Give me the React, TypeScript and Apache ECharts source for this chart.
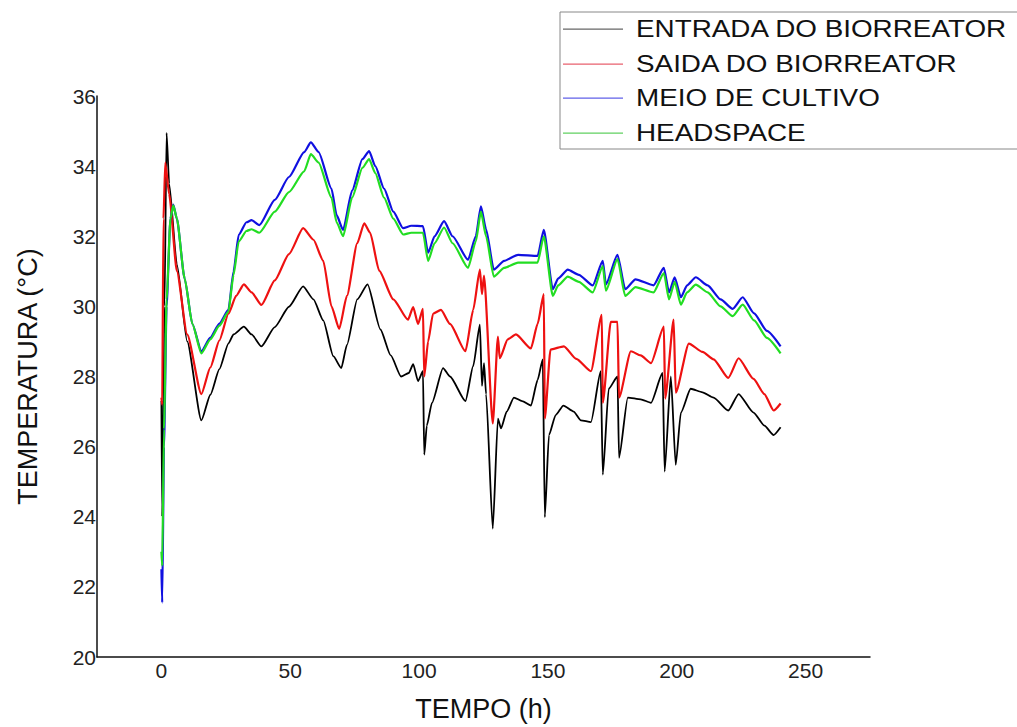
import React, { useEffect, useRef } from "react";
import * as echarts from "echarts";

const xTicks = [0, 50, 100, 150, 200, 250];
const seriesNames = ["ENTRADA DO BIORREATOR", "SAIDA DO BIORREATOR", "MEIO DE CULTIVO", "HEADSPACE"];
const seriesColors = ["#000000", "#ee1111", "#1010e0", "#22dd22"];
const legendColors = ["#666666", "#e8606e", "#6060e8", "#60d060"];

const entrada: number[][] = [
  [0, 27.3], [0.3, 24.0], [1.2, 30], [2, 34.95], [3, 33.5], [6, 31.2], [10, 29.0], [15.5, 26.75],
  [19, 27.48], [22.5, 28.21],
  [26, 28.94], [28, 29.2], [32, 29.42], [35, 29.2], [38.8, 28.86], [44, 29.41], [49.5, 29.99], [55, 30.57], [59, 30.2], [62.8, 29.6],
  [66.7, 28.58], [69.8, 28.24], [72, 28.9], [76, 30.2], [80, 30.63], [85, 29.34], [89, 28.6], [93, 28.0],
  [96, 28.1], [97.7, 28.35], [99.6, 27.87], [101.5, 28.15], [102, 25.77], [103, 26.6], [105, 27.25],
  [109.3, 28.24], [112, 28.0], [118, 27.3], [121, 28.3], [123.6, 29.48], [124.4, 27.73], [125.2, 28.38],
  [126, 27.5], [128.6, 23.66], [130.6, 26.8], [131.8, 26.52], [134, 27.0], [136.8, 27.4], [140, 27.3],
  [143.4, 27.17], [146, 27.9], [148, 28.49], [148.8, 23.99], [150.4, 26.33], [153, 26.9], [156, 27.17],
  [160, 27.0], [162.8, 26.75], [166.7, 26.7], [170.5, 28.15], [171.3, 25.2], [173.6, 27.65], [177, 28.0],
  [177.6, 25.68], [181, 27.4], [186, 27.35], [190, 27.25], [194.5, 28.1], [195.3, 25.29], [197.7, 28.0],
  [199.6, 25.48], [201.6, 26.97], [205.4, 27.65], [210, 27.55], [214.3, 27.4], [220, 27.03], [224, 27.5],
  [229.8, 26.97], [234, 26.6], [237.6, 26.33], [240.3, 26.55],
];

const saida: number[][] = [
  [0, 27.4], [0.3, 27.2], [0.8, 32.5], [1.5, 34.1], [3, 33.2], [6, 31.0], [10, 29.2], [15.5, 27.5],
  [19, 28.26], [22.5, 29.03],
  [26, 29.79], [29, 30.3], [32, 30.63], [35, 30.4], [38.8, 30.04], [44, 30.74], [49.5, 31.49], [55, 32.23], [59, 31.9], [62.8, 31.3],
  [66, 30.0], [69, 29.36], [72, 30.3], [76, 31.8], [78.7, 32.37], [81, 32.1], [84.5, 31.02], [90, 30.2],
  [95.7, 29.62], [97.7, 29.98], [99.6, 29.5], [101.5, 29.93], [102, 28.0], [103.5, 29.0], [105.4, 29.79],
  [108.5, 29.9], [112, 29.5], [118, 28.72], [121, 29.9], [123.6, 31.05], [124.4, 30.35], [125.2, 30.88],
  [128.6, 26.66], [130.6, 29.14], [131.3, 28.52], [134.4, 29.06], [137.6, 29.2], [143.4, 28.8], [146, 29.5],
  [148.4, 30.35], [148.8, 26.8], [151, 28.77], [156.2, 28.86], [161, 28.5], [166.7, 28.15], [170.9, 29.76],
  [171.3, 27.25], [174.4, 29.56], [177, 29.56], [177.6, 27.4], [182.2, 28.72], [186, 28.6], [190, 28.38],
  [195, 29.42], [195.5, 27.37], [198.8, 29.62], [199.6, 27.54], [204.7, 28.94], [210, 28.7], [214.3, 28.49],
  [220, 27.96], [224, 28.52], [229.8, 27.93], [234, 27.5], [237.6, 27.03], [240.3, 27.23],
];

const meio: number[][] = [
  [0, 22.5], [0.3, 21.55], [1, 26], [2, 30], [3.5, 32.5], [4.6, 32.9], [6, 32.5], [9, 30.8], [12, 29.5],
  [15.5, 28.72], [19, 29.11], [22.5, 29.51], [26, 29.9], [28, 31.0], [30, 32.04], [33, 32.4], [35, 32.46], [38, 32.32],
  [44, 33.04], [49.5, 33.69], [55.4, 34.4],
  [58, 34.68], [61, 34.4], [66, 33.36], [68, 32.6], [70.5, 32.18], [74, 33.3], [78, 34.2], [80.6, 34.43],
  [83, 34.0], [86.4, 33.36], [90, 32.7], [93.8, 32.23], [97, 32.3], [101.5, 32.29], [103.5, 31.53],
  [106, 32.0], [109.7, 32.43], [113, 32.0], [119, 31.33], [122, 32.0], [124, 32.85], [126, 32.2],
  [129, 31.05], [133, 31.3], [138.4, 31.47], [146, 31.44], [148.4, 32.18], [151.9, 30.49], [154, 30.8],
  [157.7, 31.05], [162, 30.9], [167.4, 30.6], [171.3, 31.3], [172.5, 30.63], [177, 31.47], [180, 30.49],
  [184, 30.77], [191, 30.6], [195, 31.1], [197, 30.4], [199.2, 30.83], [201.6, 30.26], [204, 30.6],
  [207.4, 30.83], [212, 30.6], [217, 30.2], [221.7, 29.93], [225.6, 30.26], [230, 29.8], [235, 29.3],
  [240.3, 28.86],
];

const headspace: number[][] = [
  [0, 23.0], [0.3, 22.6], [1, 26.5], [2, 30.2], [3.5, 32.5], [4.6, 32.88], [6, 32.5], [9, 30.8], [12, 29.5],
  [15.5, 28.66], [19, 29.06], [22.5, 29.45], [26, 29.85], [28, 30.9], [30, 31.85], [33, 32.15], [35, 32.2], [38, 32.1],
  [44, 32.7], [49.5, 33.26], [55.4, 33.85],
  [58, 34.34], [61, 34.1], [66, 33.1], [68, 32.4], [70.5, 32.0], [74, 33.1], [78, 33.95], [80.6, 34.2],
  [83, 33.8], [86.4, 33.1], [90, 32.5], [93.8, 32.05], [97, 32.1], [101.5, 32.1], [103.5, 31.3],
  [106, 31.8], [109.7, 32.25], [113, 31.8], [119, 31.1], [122, 31.85], [124, 32.7], [126, 32.0],
  [129, 30.85], [133, 31.1], [138.4, 31.25], [146, 31.25], [148.4, 32.0], [151.9, 30.3], [154, 30.6],
  [157.7, 30.85], [162, 30.7], [167.4, 30.4], [171.3, 31.15], [172.5, 30.45], [177, 31.35], [180, 30.3],
  [184, 30.55], [191, 30.4], [195, 30.95], [197, 30.2], [199.2, 30.7], [201.6, 30.05], [204, 30.4],
  [207.4, 30.62], [212, 30.4], [217, 30.0], [221.7, 29.72], [225.6, 30.05], [230, 29.6], [235, 29.1],
  [240.3, 28.66],
];

const allData = [entrada, saida, meio, headspace];
const FONT = "'Liberation Sans', Arial, sans-serif";

export default function App() {
  const ref = useRef<HTMLDivElement>(null);
  useEffect(() => {
    if (!ref.current) return;
    const chart = echarts.init(ref.current, null, { renderer: "svg" });
    const legendEls: any[] = [
      {
        type: "rect",
        shape: { x: 560, y: 12, width: 480, height: 137 },
        style: { fill: "#fff", stroke: "#888", lineWidth: 1 },
        z: 10,
      },
    ];
    seriesNames.forEach((n, i) => {
      const cy = 29 + i * 34.5;
      legendEls.push({
        type: "rect",
        shape: { x: 563, y: Math.round(cy) - 0.5, width: 60, height: 1.2 },
        style: { fill: legendColors[i] },
        z: 11,
      });
      legendEls.push({
        type: "text",
        x: 636,
        y: cy,
        scaleX: 1.16,
        style: {
          text: n,
          fill: "#111",
          font: `24px ${FONT}`,
          verticalAlign: "middle",
        },
        z: 11,
      });
    });
    chart.setOption({
      animation: false,
      backgroundColor: "#fff",
      grid: { left: 97, right: 147, top: 96, bottom: 62, containLabel: false },
      xAxis: {
        type: "value",
        min: -25,
        max: 275,
        name: "TEMPO (h)",
        nameLocation: "middle",
        nameGap: 38,
        nameTextStyle: { fontFamily: FONT, fontSize: 27, color: "#111" },
        axisLine: { show: true, onZero: false, lineStyle: { color: "#111", width: 1.5 } },
        axisTick: { show: false },
        splitLine: { show: false },
        axisLabel: {
          customValues: xTicks,
          fontFamily: FONT,
          fontSize: 21,
          color: "#222",
          margin: 3,
        },
      },
      yAxis: {
        type: "value",
        min: 20,
        max: 36,
        interval: 2,
        name: "TEMPERATURA (°C)",
        nameLocation: "middle",
        nameRotate: 90,
        nameGap: 56,
        nameTextStyle: { fontFamily: FONT, fontSize: 27, color: "#111" },
        axisLine: { show: true, onZero: false, lineStyle: { color: "#111", width: 1.5 } },
        axisTick: { show: false },
        splitLine: { show: false },
        axisLabel: { fontFamily: FONT, fontSize: 21, color: "#222", margin: 1, verticalAlign: "middle" },
      },
      series: allData.map((d, i) => ({
        name: seriesNames[i],
        type: "line",
        data: d,
        showSymbol: false,
        symbol: "none",
        smooth: 0.2,
        smoothMonotone: "x",
        lineStyle: { color: seriesColors[i], width: i === 0 ? 1.8 : 2.2 },
        itemStyle: { color: seriesColors[i] },
        z: 2 + i,
      })),
      graphic: legendEls,
    });
    return () => chart.dispose();
  }, []);
  return <div ref={ref} style={{ width: 1017, height: 727, position: "absolute", left: 0, top: 0 }} />;
}
